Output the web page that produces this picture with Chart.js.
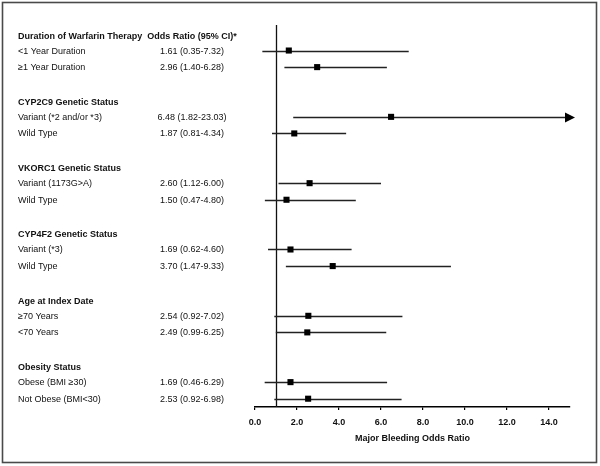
<!DOCTYPE html>
<html>
<head>
<meta charset="utf-8">
<script src="https://cdn.jsdelivr.net/npm/chart.js@4.4.1/dist/chart.umd.min.js"></script>
<style>
  html, body { margin: 0; padding: 0; background: #fff; }
  canvas { display: block; }
</style>
</head>
<body>
<canvas id="forest" width="600" height="466"></canvas>
<script>
// Subgroup headings, one per block of two rows
const groupTitles = [
  'Duration of Warfarin Therapy',
  'CYP2C9 Genetic Status',
  'VKORC1 Genetic Status',
  'CYP4F2 Genetic Status',
  'Age at Index Date',
  'Obesity Status'
];

// Row labels and which group they belong to
const rowLabels = [
  '<1 Year Duration', '≥1 Year Duration',
  'Variant (*2 and/or *3)', 'Wild Type',
  'Variant (1173G>A)', 'Wild Type',
  'Variant (*3)', 'Wild Type',
  '≥70 Years', '<70 Years',
  'Obese (BMI ≥30)', 'Not Obese (BMI<30)'
];
const rowGroup = [0, 0, 1, 1, 2, 2, 3, 3, 4, 4, 5, 5];

// Odds ratios and 95% CI
const oddsRatios = [1.61, 2.96, 6.48, 1.87, 2.60, 1.50, 1.69, 3.70, 2.54, 2.49, 1.69, 2.53];
const ciLower    = [0.35, 1.40, 1.82, 0.81, 1.12, 0.47, 0.62, 1.47, 0.92, 0.99, 0.46, 0.92];
const ciUpper    = [7.32, 6.28, 23.03, 4.34, 6.00, 4.80, 4.60, 9.33, 7.02, 6.25, 6.29, 6.98];

// Axis
const xTicks = [0, 2, 4, 6, 8, 10, 12, 14];
const xMax = 15;
const nullValue = 1;
const xTitle = 'Major Bleeding Odds Ratio';
const ciHeader = 'Odds Ratio (95% CI)*';

const FONT = '"Liberation Sans", Arial, Helvetica, sans-serif';

// Row slot: each group takes a heading line, two rows and a blank line
function headerSlot(g) { return g * 4; }
function rowSlot(i) {
  const g = rowGroup[i];
  const first = rowGroup.indexOf(g);
  return g * 4 + 1 + (i - first);
}

// Frame around the whole figure
const framePlugin = {
  id: 'frame',
  beforeDraw(chart) {
    const ctx = chart.ctx;
    ctx.save();
    ctx.fillStyle = '#fff';
    ctx.fillRect(0, 0, chart.width, chart.height);
    ctx.restore();
  },
  afterDraw(chart) {
    const ctx = chart.ctx;
    ctx.save();
    ctx.strokeStyle = '#4a4a4a';
    ctx.lineWidth = 1.6;
    ctx.strokeRect(2.5, 2.5, chart.width - 6, chart.height - 6);
    ctx.restore();
  }
};

// Null line and confidence interval whiskers
const whiskerPlugin = {
  id: 'whiskers',
  beforeDatasetsDraw(chart) {
    const { ctx, chartArea } = chart;
    const xs = chart.scales.x, ys = chart.scales.y;
    ctx.save();
    // reference line at OR = 1
    const x1 = Math.round(xs.getPixelForValue(nullValue)) + 0.5;
    ctx.strokeStyle = '#111';
    ctx.lineWidth = 1.3;
    ctx.beginPath();
    ctx.moveTo(x1, chartArea.top);
    ctx.lineTo(x1, chartArea.bottom);
    ctx.stroke();

    ctx.strokeStyle = '#222';
    ctx.fillStyle = '#000';
    ctx.lineWidth = 1.3;
    oddsRatios.forEach((v, i) => {
      const y = Math.round(ys.getPixelForValue(rowSlot(i))) + 0.5;
      const xa = xs.getPixelForValue(ciLower[i]);
      if (ciUpper[i] > xMax) {
        const tip = xs.getPixelForValue(xMax) + 5;
        ctx.beginPath();
        ctx.moveTo(xa, y);
        ctx.lineTo(tip - 9, y);
        ctx.stroke();
        ctx.beginPath();
        ctx.moveTo(tip - 10, y - 5);
        ctx.lineTo(tip, y);
        ctx.lineTo(tip - 10, y + 5);
        ctx.closePath();
        ctx.fill();
      } else {
        const xb = xs.getPixelForValue(ciUpper[i]);
        ctx.beginPath();
        ctx.moveTo(xa, y);
        ctx.lineTo(xb, y);
        ctx.stroke();
      }
    });
    ctx.restore();
  }
};

// Left-hand text table
const tablePlugin = {
  id: 'table',
  afterDraw(chart) {
    const ctx = chart.ctx;
    const ys = chart.scales.y;
    const labelX = 18, ciX = 192;
    ctx.save();
    ctx.fillStyle = '#111';
    ctx.textBaseline = 'middle';

    ctx.font = 'bold 9px ' + FONT;
    groupTitles.forEach((t, g) => {
      const y = ys.getPixelForValue(headerSlot(g)) + (g === 0 ? 3 : 2);
      ctx.textAlign = 'left';
      ctx.fillText(t, labelX, y);
    });
    ctx.textAlign = 'center';
    ctx.fillText(ciHeader, ciX, ys.getPixelForValue(headerSlot(0)) + 3);

    ctx.font = '9px ' + FONT;
    rowLabels.forEach((t, i) => {
      const y = ys.getPixelForValue(rowSlot(i)) + 0.5;
      ctx.textAlign = 'left';
      ctx.fillText(t, labelX, y);
      ctx.textAlign = 'center';
      const txt = oddsRatios[i].toFixed(2) + ' (' + ciLower[i].toFixed(2) + '-' + ciUpper[i].toFixed(2) + ')';
      ctx.fillText(txt, ciX, y);
    });
    ctx.restore();
  }
};

const lastSlot = rowSlot(rowLabels.length - 1);

new Chart(document.getElementById('forest'), {
  type: 'scatter',
  data: {
    datasets: [{
      data: oddsRatios.map((v, i) => ({ x: v, y: rowSlot(i) })),
      pointStyle: 'rect',
      pointRadius: 4.3,
      pointBorderWidth: 0,
      pointBackgroundColor: '#000',
      clip: false
    }]
  },
  options: {
    responsive: false,
    animation: false,
    events: [],
    layout: { padding: { left: 255, right: 30, top: 25, bottom: 0 } },
    plugins: { legend: { display: false }, tooltip: { enabled: false } },
    scales: {
      x: {
        type: 'linear',
        min: 0,
        max: xMax,
        afterBuildTicks: (s) => { s.ticks = xTicks.map(v => ({ value: v })); },
        afterFit: (s) => { s.height = 59; },
        grid: { drawOnChartArea: false, drawTicks: true, tickLength: 3, color: '#000', lineWidth: 1.2 },
        border: { display: true, color: '#000', width: 1.5 },
        ticks: {
          padding: 7,
          color: '#111',
          font: { family: FONT, size: 9, weight: 'bold' },
          callback: (v) => Number(v).toFixed(1)
        },
        title: {
          display: true,
          text: xTitle,
          color: '#111',
          font: { family: FONT, size: 9, weight: 'bold' },
          padding: { top: 0, bottom: 21.6 }
        }
      },
      y: {
        type: 'linear',
        display: false,
        reverse: true,
        min: -0.54,
        max: lastSlot + 0.5
      }
    }
  },
  plugins: [framePlugin, whiskerPlugin, tablePlugin]
});
</script>
</body>
</html>
